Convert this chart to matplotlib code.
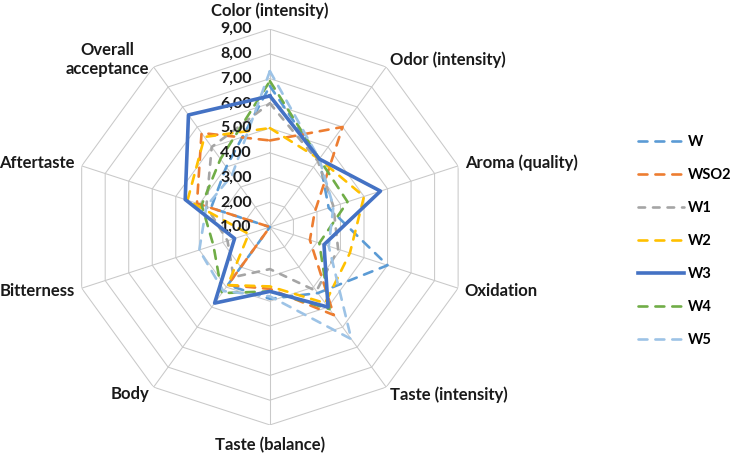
import numpy as np
import matplotlib
matplotlib.use('Agg')
import matplotlib.pyplot as plt

plt.rcParams['font.family'] = ['Lato', 'DejaVu Sans']

# sensory attributes, clockwise from the top
categories = ["Color (intensity)", "Odor (intensity)", "Aroma (quality)",
              "Oxidation", "Taste (intensity)", "Taste (balance)", "Body",
              "Bitterness", "Aftertaste", "Overall\nacceptance"]
tick_values = [1, 2, 3, 4, 5, 6, 7, 8, 9]

series_names = ["W", "WSO2", "W1", "W2", "W3", "W4", "W5"]
W = [6.7, 4.4, 3.5, 6.0, 4.3, 3.9, 3.9, 1.0, 3.5, 4.0]
WSO2 = [4.5, 6.0, 2.9, 2.7, 5.4, 3.5, 3.9, 1.0, 4.1, 5.7]
W1 = [6.0, 4.3, 3.7, 3.9, 4.2, 2.7, 3.5, 2.8, 3.7, 5.0]
W2 = [5.0, 4.4, 5.0, 4.4, 4.8, 3.4, 3.9, 1.9, 4.5, 5.5]
W3 = [6.3, 4.4, 5.7, 3.3, 5.0, 3.6, 4.8, 2.5, 4.6, 6.6]
W4 = [6.9, 4.4, 4.3, 3.1, 5.1, 3.6, 4.3, 3.4, 3.9, 4.4]
W5 = [7.3, 4.4, 3.7, 3.5, 6.6, 3.8, 4.2, 4.0, 3.7, 3.6]
series = [W, WSO2, W1, W2, W3, W4, W5]

colors = ['#5B9BD5', '#ED7D31', '#A5A5A5', '#FFC000', '#4472C4',
          '#70AD47', '#9DC3E6']

n = len(categories)
theta = np.arange(n) * 2 * np.pi / n
theta_closed = np.append(theta, theta[0])

fig = plt.figure(figsize=(7.33, 4.54), dpi=100)
ax = fig.add_axes([0.0982, 0.0639, 0.540, 0.872], projection='polar')
ax.set_theta_zero_location('N')
ax.set_theta_direction(-1)
ax.set_ylim(tick_values[0], tick_values[-1])
ax.set_xticks([])
ax.set_yticks([])
ax.grid(False)
ax.spines['polar'].set_visible(False)

# polygon grid and spokes
grid_col = '#C9C9C9'
for v in tick_values[1:]:
    ax.plot(theta_closed, [v] * (n + 1), color=grid_col, lw=0.75, zorder=1)
for t in theta:
    ax.plot([t, t], [tick_values[0], tick_values[-1]], color=grid_col,
            lw=0.75, zorder=1)

# value labels along the top spoke
for v in tick_values:
    ax.annotate('{:.2f}'.format(v).replace('.', ','), xy=(0, v),
                xytext=(-18, 0), textcoords='offset pixels',
                ha='right', va='center', fontsize=11.5, fontweight='bold',
                color='#1a1a1a', annotation_clip=False)

# category labels
for t, lab in zip(theta, categories):
    s, c = np.sin(t), np.cos(t)
    if abs(s) < 0.1:
        ha = 'center'
        va = 'bottom' if c > 0 else 'top'
        off = (0, 10 if c > 0 else -12)
    else:
        ha = 'left' if s > 0 else 'right'
        va = 'center'
        off = (7 * s, 9 * c)
    ax.annotate(lab, xy=(t, tick_values[-1]), xytext=off,
                textcoords='offset pixels', ha=ha, va=va, fontsize=12,
                fontweight='bold', color='#1a1a1a', multialignment='center',
                annotation_clip=False)

for name, vals, col in zip(series_names, series, colors):
    r = vals + [vals[0]]
    if name == 'W3':
        ax.plot(theta_closed, r, color=col, lw=2.6, label=name, zorder=3)
    else:
        dash = (2.5, 3.0) if name == 'W1' else (3.4, 3.0)
        ax.plot(theta_closed, r, color=col, lw=1.9, label=name,
                dashes=dash, dash_capstyle='round', zorder=2)

fig.legend(loc='center left', bbox_to_anchor=(0.853, 0.469), frameon=False,
           prop={'size': 10.5, 'weight': 'bold'}, handlelength=3.1,
           handletextpad=0.3, labelspacing=1.3)

fig.savefig('out.png', dpi=100)
